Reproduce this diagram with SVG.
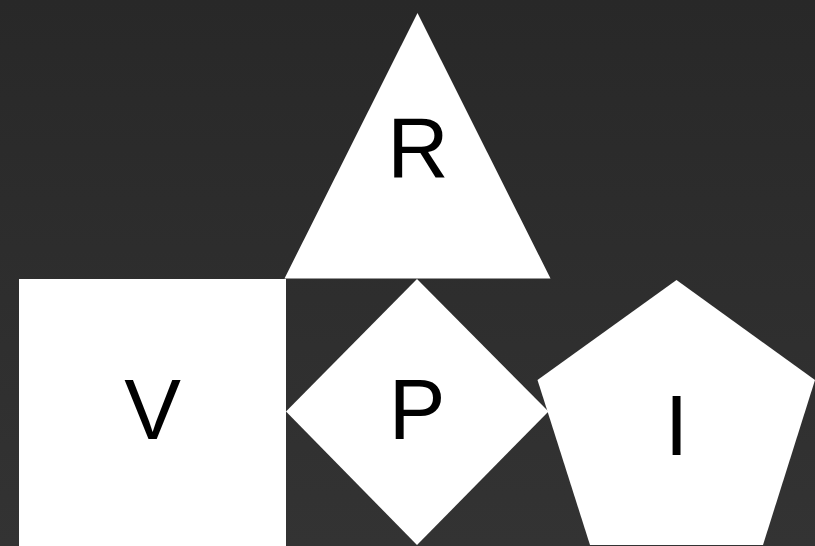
<svg xmlns="http://www.w3.org/2000/svg" width="815" height="546" viewBox="0 0 815 546">
<defs>
<linearGradient id="bg" x1="0" y1="0" x2="0" y2="1">
<stop offset="0" stop-color="#282828"/>
<stop offset="1" stop-color="#333333"/>
</linearGradient>
</defs>
<style>
.shape{fill:#ffffff;stroke:none}
.lbl{font-family:"Liberation Sans",Arial,sans-serif;font-size:85px;fill:#000000;text-anchor:middle}
</style>
<rect x="0" y="0" width="815" height="546" fill="url(#bg)"/>
<g id="connectors"></g>
<g id="node-R">
<polygon class="shape" points="417.5,13 284.5,278.5 550.5,278.5"/>
<text class="lbl" x="418" y="177">R</text>
</g>
<g id="node-V">
<rect class="shape" x="19" y="279" width="267" height="267"/>
<text class="lbl" x="152.5" y="439">V</text>
</g>
<g id="node-P">
<polygon class="shape" points="417,279 548.5,411.5 417,545 286,411.5"/>
<text class="lbl" x="417" y="439">P</text>
</g>
<g id="node-I">
<polygon class="shape" points="676.5,280 815,380 763,545 590,545 537.5,380"/>
<text class="lbl" x="676.5" y="455">I</text>
</g>
</svg>
